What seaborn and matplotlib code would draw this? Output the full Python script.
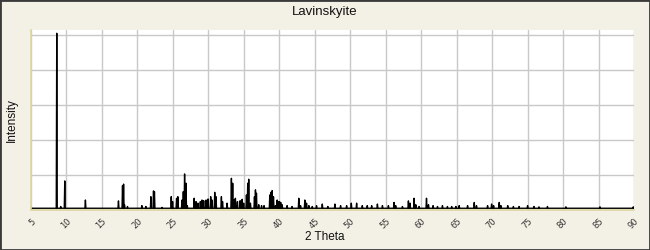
import matplotlib
matplotlib.use("Agg")
import matplotlib.pyplot as plt
import seaborn as sns
import pandas as pd
from matplotlib.ticker import MultipleLocator
from matplotlib.patches import Rectangle

# ---- data ----
title = "Lavinskyite"
x_label = "2 Theta"
y_label = "Intensity"
baseline = 1.0
peak_2theta = [8.63, 9.19, 9.76, 12.67, 17.33, 17.9, 18.05, 18.18, 18.6,
               20.63, 21.2, 21.9, 22.27, 22.4, 23.46, 24.77, 24.96, 25.52, 25.7,
               26.28, 26.47, 26.65, 26.85, 27.03, 28.0, 28.26, 28.54, 28.87, 29.1,
               29.34, 29.67, 29.96, 30.33, 30.52, 30.9, 31.08, 31.84, 32.0, 32.64,
               33.25, 33.43, 33.63, 33.81, 34.1, 34.48, 34.76, 34.98, 35.37, 35.55,
               35.69, 35.93, 36.5, 36.64, 36.78, 37.1, 37.5, 37.85, 38.66, 38.8,
               39.0, 39.18, 39.46, 39.7, 39.85, 40.03, 40.2, 40.4, 41.1, 41.8,
               42.75, 43.0, 43.6, 43.84, 44.17, 44.65, 45.25, 46.06, 46.85, 47.84,
               48.64, 49.49, 50.15, 50.9, 51.7, 52.4, 53.02, 53.83, 54.54, 55.38,
               56.17, 56.41, 57.36, 58.2, 58.43, 59.0, 59.24, 59.7, 60.75, 61.03,
               61.68, 62.3, 63.0, 63.7, 64.3, 64.9, 65.36, 66.54, 67.48, 67.8,
               69.36, 69.93, 70.21, 71.0, 71.24, 72.2, 73.0, 73.8, 75.0, 75.9,
               76.6, 77.8, 80.4, 85.2, 89.9]
peak_intensity = [100, 1.0, 15.6, 4.7, 4.2, 12.9, 13.8, 2.0, 1.0,
                  1.5, 1.0, 6.6, 9.9, 9.5, 0.5, 6.6, 3.8, 5.7, 6.6,
                  4.7, 9.5, 19.6, 14.3, 1.5, 5.7, 3.8, 2.9, 3.8, 4.7,
                  4.3, 4.7, 5.3, 6.6, 4.7, 9.1, 6.6, 6.6, 3.8, 2.9,
                  17.1, 14.3, 4.7, 5.7, 3.8, 4.3, 5.1, 2.9, 7.6, 14.3,
                  16.6, 2.9, 6.6, 10.5, 8.6, 2.0, 1.5, 1.5, 7.6, 9.1,
                  10.1, 6.6, 1.5, 4.7, 3.8, 3.8, 3.3, 2.0, 1.5, 1.0,
                  5.7, 1.5, 4.7, 2.9, 1.5, 1.0, 1.5, 2.4, 1.0, 2.4,
                  1.5, 1.5, 2.9, 2.9, 1.5, 1.5, 1.5, 2.4, 1.5, 1.5,
                  3.3, 1.5, 1.0, 4.2, 2.9, 5.7, 2.0, 1.0, 5.7, 2.0,
                  1.5, 1.0, 1.5, 1.0, 1.0, 1.0, 1.5, 1.5, 3.3, 1.5,
                  1.5, 2.4, 1.5, 3.3, 1.5, 1.5, 1.0, 1.0, 1.5, 1.0,
                  0.8, 1.0, 0.8, 0.8, 0.8]
x_start, x_end = 5, 90
x_major = 5
y_major = 20

# ---- build the line path (baseline - peak - baseline per reflection) ----
half_w = 0.07
xs, ys = [x_start], [baseline]
for p, h in zip(peak_2theta, peak_intensity):
    xs += [p - half_w, p, p + half_w]
    ys += [baseline, baseline + h, baseline]
xs.append(x_end)
ys.append(baseline)
df = pd.DataFrame({"two_theta": xs, "intensity": ys})

sns.set_theme(style="white")
plt.rcParams["font.family"] = ["DejaVu Sans"]

bg = "#f3f1e5"
fig = plt.figure(figsize=(6.5, 2.5), dpi=100, facecolor=bg)
ax = fig.add_axes([31 / 650, 40 / 250, 603 / 650, 180 / 250])
ax.set_facecolor("white")

sns.lineplot(data=df, x="two_theta", y="intensity", sort=False, estimator=None,
             color="black", linewidth=1.0, ax=ax)

ax.set_xlim(x_start, x_end)
ax.set_ylim(0, 102.86)
ax.xaxis.set_major_locator(MultipleLocator(x_major))
ax.xaxis.set_minor_locator(MultipleLocator(1))
ax.yaxis.set_major_locator(MultipleLocator(y_major))
ax.yaxis.set_minor_locator(MultipleLocator(y_major / 2))
ax.grid(True, which="major", color="#c8c8c8", linewidth=1.0)
ax.set_axisbelow(True)

spine_col = "#ddd6a0"
for s in ["top", "right"]:
    ax.spines[s].set_visible(False)
for s in ["left", "bottom"]:
    ax.spines[s].set_visible(True)
    ax.spines[s].set_color(spine_col)
    ax.spines[s].set_linewidth(1.2)
    ax.spines[s].set_zorder(5)

ax.tick_params(axis="x", which="both", direction="out", colors=spine_col,
               length=4, width=1, labelcolor="#333333", labelsize=6, pad=1)
ax.tick_params(axis="y", which="both", direction="in", colors=spine_col,
               length=3, width=1, labelleft=False)
ax.set_xticks(range(x_start, x_end + 1, x_major))
for lab in ax.get_xticklabels():
    lab.set_rotation(45)
    lab.set_ha("right")
    lab.set_va("top")
    lab.set_rotation_mode("anchor")

ax.set_xlabel("")
ax.set_ylabel("")
fig.text(0.5, 1 - 12 / 250, title, ha="center", va="center",
         fontsize=9.5, family=["Liberation Sans", "DejaVu Sans"], color="#111111")
fig.text(325 / 650, 1 - 237 / 250, x_label, ha="center", va="center",
         fontsize=8.5, family=["Liberation Sans", "DejaVu Sans"], color="#111111")
fig.text(12 / 650, 1 - 120 / 250, y_label, ha="center", va="center", rotation=90,
         fontsize=8.5, family=["Liberation Sans", "DejaVu Sans"], color="#111111")

fig.patches.append(Rectangle((0, 0), 1, 1, transform=fig.transFigure,
                             fill=False, edgecolor="#3a3a3a", linewidth=2.0,
                             zorder=10))

fig.savefig("out.png", dpi=100, facecolor=bg)
